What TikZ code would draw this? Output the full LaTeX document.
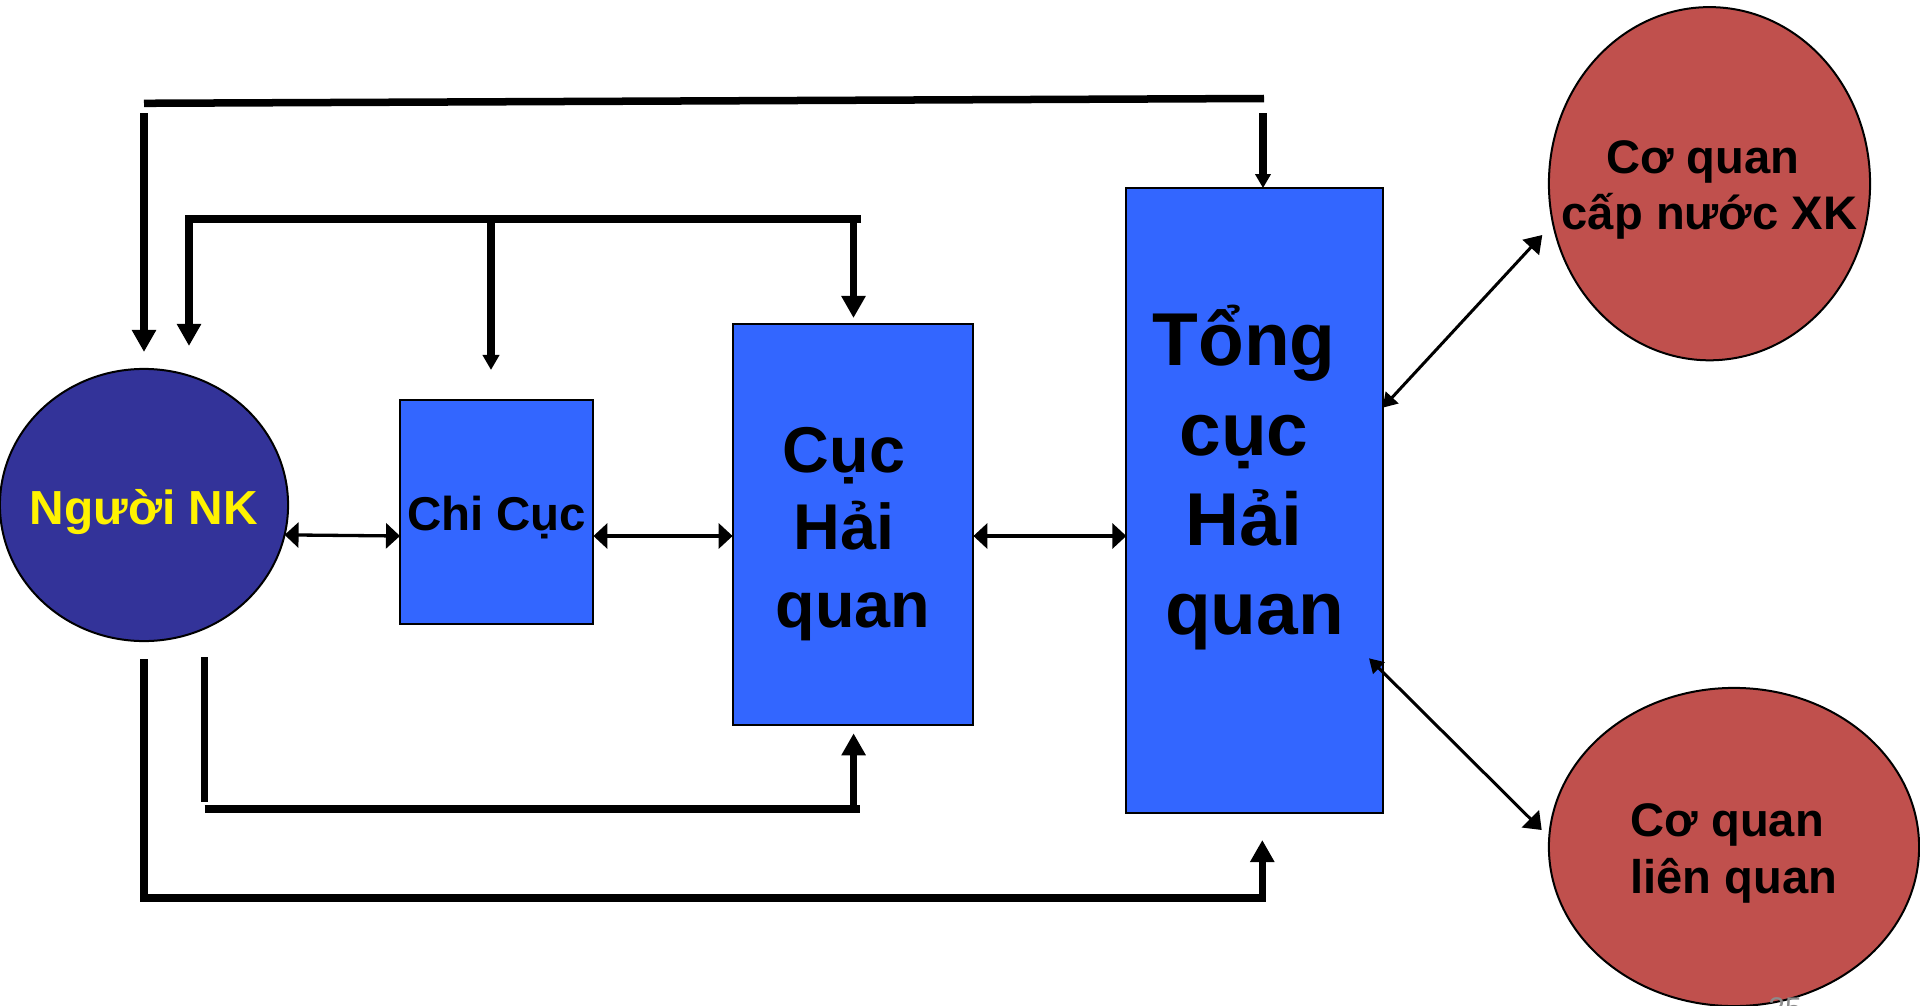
\documentclass[tikz,border=0pt]{standalone}
\usepackage{fontspec}
\setmainfont{Liberation Sans}
\usetikzlibrary{arrows.meta,shapes.geometric,calc}
\definecolor{nkblue}{HTML}{333399}
\definecolor{boxblue}{HTML}{3366FF}
\definecolor{cqred}{HTML}{C0504D}
\definecolor{pagegray}{HTML}{8C8C8C}
% centred line of zero width
\newcommand\ctrline[1]{\hbox to 0pt{\hss#1\hss}}
% zero-size block of lines; #1 = raise of the first baseline above the node centre
\newcommand\txtblock[2]{\raisebox{#1}[0pt][0pt]{\vtop{\lineskiplimit=-100pt\relax #2}}}
\begin{document}
\begin{tikzpicture}[x=0.01cm,y=-0.01cm,
  shapeline/.style={draw=black,line width=0.02cm,inner sep=0pt,outer sep=0pt},
  boxnode/.style={shapeline,rectangle,fill=boxblue,text=black},
  ovalnode/.style={shapeline,ellipse},
  heavy/.style={line width=0.075cm},
  bighead/.style={-{Triangle[width=0.23cm,length=0.22cm]}},
  smallhead/.style={-{Triangle[width=0.16cm,length=0.15cm]}},
  thinlink/.style={line width=0.033cm,{Triangle[width=0.25cm,length=0.14cm]}-{Triangle[width=0.25cm,length=0.14cm]}},
  diaglink/.style={line width=0.03cm},
]
\useasboundingbox[fill=white] (0,0) rectangle (1920,1006);

% ---- nodes ----
\node[ovalnode,fill=nkblue,text=yellow,minimum width=2.88cm,minimum height=2.72cm,
  font={\fontsize{13.6}{17}\selectfont\bfseries}] (nk) at (144,505)
  {\txtblock{-0.19cm}{\ctrline{Người NK}}};
\node[boxnode,minimum width=1.933cm,minimum height=2.243cm,
  font={\fontsize{13.5}{17}\selectfont\bfseries}] (cc) at (496.7,512.2)
  {\txtblock{-0.178cm}{\ctrline{Chi Cục}}};
\node[boxnode,minimum width=2.406cm,minimum height=4.005cm,
  font={\fontsize{18.4}{21.9}\selectfont\bfseries}] (cuc) at (853,524.7)
  {\txtblock{0.517cm}{\ctrline{Cục\hskip0.28em}\ctrline{Hải\hskip0.28em}\ctrline{quan}}};
\node[boxnode,minimum width=2.562cm,minimum height=6.244cm,
  font={\fontsize{21.3}{25.5}\selectfont\bfseries}] (tg) at (1254.5,500.5)
  {\txtblock{1.345cm}{\ctrline{Tổng\hskip0.28em}\ctrline{cục\hskip0.28em}\ctrline{Hải\hskip0.28em}\ctrline{quan}}};
\node[ovalnode,fill=cqred,minimum width=3.21cm,minimum height=3.53cm,
  font={\fontsize{13.4}{16.1}\selectfont\bfseries}] (cq1) at (1709.5,183.7)
  {\txtblock{0.104cm}{\ctrline{Cơ quan\hskip0.28em}\ctrline{cấp nước XK}}};
\node[ovalnode,fill=cqred,minimum width=3.70cm,minimum height=3.18cm,
  font={\fontsize{13.4}{16.1}\selectfont\bfseries}] (cq2) at (1734,847)
  {\txtblock{0.103cm}{\ctrline{Cơ quan\hskip0.28em}\ctrline{liên quan}}};
\node[anchor=north,inner sep=0pt,text=pagegray,font={\fontsize{8.5}{10}\selectfont}] (pg) at (1785,997) {25};

% ---- coordinates ----
\coordinate (hy) at (0,536);
\coordinate (t0) at (144,103.3);
\coordinate (t1) at (1264,98.5);
\coordinate (t2) at (144,113);
\coordinate (t2e) at (144,352);
\coordinate (t3) at (1263,113);
\coordinate (s0) at (861,219);
\coordinate (s1) at (189,219);
\coordinate (s2) at (189,346);
\coordinate (s3) at (853.5,219);
\coordinate (s4) at (853.5,318);
\coordinate (s5) at (491,219);
\coordinate (s6) at (491,370);
\coordinate (u0) at (204.5,657);
\coordinate (u1) at (204.5,801.7);
\coordinate (u2) at (204.5,809);
\coordinate (u3) at (860,809);
\coordinate (u4) at (853.6,809);
\coordinate (u5) at (853.6,733.3);
\coordinate (v0) at (144,659);
\coordinate (v1) at (144,898);
\coordinate (v2) at (1262.3,898);
\coordinate (v3) at (1262.3,840);
\coordinate (d1) at (1542.3,235);
\coordinate (d1b) at (1384,407.7);
\coordinate (d2) at (1369,658.3);
\coordinate (d2b) at (1541.7,830);

% ---- heavy connectors (top) ----
\draw[heavy] (t0) -- (t1);
\draw[heavy,bighead] (t2) -- (t2e);
\draw[heavy,-{Triangle[width=0.15cm,length=0.14cm]}] (t3) -- (t3 |- tg.north);
\draw[heavy,bighead] (s0) -- (s1) -- (s2);
\draw[heavy,bighead] (s3) -- (s4);
\draw[heavy,smallhead] (s5) -- (s6);

% ---- heavy connectors (bottom) ----
\draw[heavy] (u0) -- (u1);
\draw[heavy] (u2) -- (u3);
\draw[heavy,bighead] (u4) -- (u5);
\draw[heavy,bighead] (v0) -- (v1) -- (v2) -- (v3);

% ---- horizontal double arrows ----
\draw[thinlink] (nk.-12.5) -- (cc.west |- hy);
\draw[thinlink] (cc.east |- hy) -- (cuc.west |- hy);
\draw[thinlink] (cuc.east |- hy) -- (tg.west |- hy);

% ---- diagonal double arrows ----
\draw[diaglink,{Triangle[width=0.17cm,length=0.14cm]}-{Triangle[width=0.22cm,length=0.17cm]}] (tg.east |- d1b) -- (d1);
\draw[diaglink,{Triangle[width=0.16cm,length=0.14cm]}-{Triangle[width=0.24cm,length=0.16cm]}] (d2) -- (d2b);
\end{tikzpicture}
\end{document}
